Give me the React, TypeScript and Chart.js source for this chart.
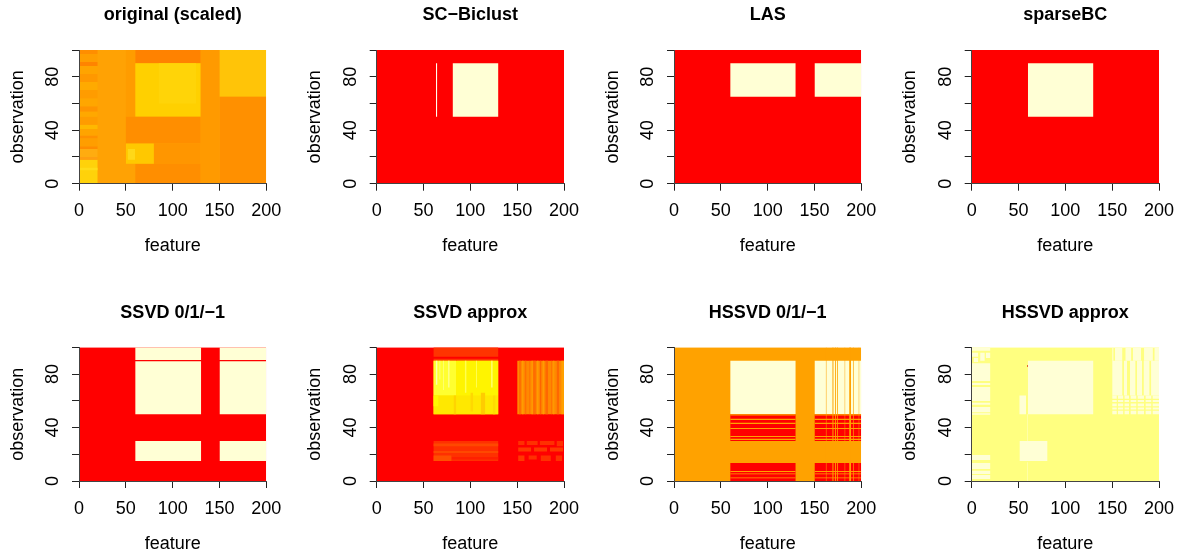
import React, { useEffect, useRef } from "react";
import { Chart, registerables } from "chart.js";

Chart.register(...registerables);

type Rect = [number, number, number, number, string];

const RED = "#FF0000";
const ORANGE = "#FFA200";
const CREAM = "#FFFFD5";
const PALE = "#FFFF80";

const xTicks = [0, 50, 100, 150, 200];
const yLabelled = [0, 40, 80];

const titles = [
  "original (scaled)", "SC\u2212Biclust", "LAS", "sparseBC",
  "SSVD 0/1/\u22121", "SSVD approx", "HSSVD 0/1/\u22121", "HSSVD approx",
];

const cross = (cols: number[][], rows: number[][], color: string): Rect[] =>
  cols.flatMap((c) => rows.map((r) => [c[0], c[1], r[0], r[1], color] as Rect));

// ---- original (scaled)
const originalBlocks: Rect[] = [
  [0, 200, 0, 100, "#FFA204"],
  [50, 60, 30, 100, "#FF9C00"],
  [60, 130, 90, 100, "#FF8200"],
  [60, 130, 50, 90, "#FFD000"],
  [85, 125, 60, 90, "#FFD408"],
  [50, 130, 30, 50, "#FF8E00"],
  [80, 130, 15, 30, "#FF9600"],
  [60, 130, 0, 15, "#FF8E00"],
  [50, 80, 15, 30, "#FFC800"],
  [52, 60, 18, 26, "#FFD818"],
  [130, 150, 0, 100, "#FF9A00"],
  [150, 200, 65, 100, "#FFC408"],
  [150, 200, 0, 65, "#FF9000"],
];
const originalLeftRows: Rect[] = [
  [0, 20, 0, 18, "#FFD20A"], [0, 20, 10, 12, "#FFDC18"], [0, 20, 18, 20, "#FF9E10"],
  [0, 20, 20, 26, "#FFAC10"], [0, 20, 26, 28, "#FF8C00"], [0, 20, 28, 34, "#FF9E00"],
  [0, 20, 34, 36, "#FF9000"], [0, 20, 36, 41, "#FFA400"], [0, 20, 41, 44, "#FFB800"],
  [0, 20, 44, 50, "#FF9C00"], [0, 20, 50, 54, "#FFA800"], [0, 20, 54, 58, "#FF9400"],
  [0, 20, 58, 64, "#FFA600"], [0, 20, 64, 70, "#FF9C00"], [0, 20, 70, 76, "#FFAA00"],
  [0, 20, 76, 82, "#FF9800"], [0, 20, 82, 88, "#FFA400"], [0, 20, 88, 91, "#FF8400"],
  [0, 20, 91, 97, "#FF9E00"], [0, 20, 97, 100, "#FF8E00"],
];

// ---- flat biclusters
const scBiclust: Rect[] = [
  [0, 200, 0, 100, RED], [63.3, 64.7, 50, 90, "#FFFFF0"], [81, 130, 50, 90, CREAM],
];
const las: Rect[] = [
  [0, 200, 0, 100, RED], [60, 130, 65, 90, CREAM], [150, 200, 65, 90, CREAM],
];
const sparseBC: Rect[] = [
  [0, 200, 0, 100, RED], [60, 130, 50, 90, CREAM],
];
const ssvdCols = [[60, 130.5], [150, 200]];
const ssvdRows = [[50, 89.5], [90.5, 100], [15, 30]];
const ssvdBinary: Rect[] = [[0, 200, 0, 100, RED], ...cross(ssvdCols, ssvdRows, CREAM)];

// ---- SSVD approx
const ssvdApprox: Rect[] = [
  [0, 200, 0, 100, RED],
  [60.5, 130, 93, 100, "#FF3400"], [60.5, 130, 90, 91.5, "#FF3400"],
  [60.5, 130, 50, 90, "#FFF000"],
  [60.5, 85, 64, 90, "#FFFF30"], [63, 65, 72, 90, "#FFFFB0"], [67, 68, 76, 90, "#FFFFC0"],
  [71, 72, 68, 90, "#FFFF90"], [76, 78, 70, 90, "#FFFF80"], [85, 130, 64, 90, "#FFF400"],
  [94, 96, 66, 90, "#FFFF50"], [106, 107, 70, 90, "#FFFF60"], [122, 124, 70, 90, "#FFFF60"],
  [60.5, 130, 50, 64, "#FFE800"], [60.5, 66, 56, 64, "#FFF800"], [82, 85, 50, 64, "#FFD400"],
  [100, 103, 52, 66, "#FFD800"], [111, 116, 50, 66, "#FFCC00"], [124, 127, 50, 64, "#FFDC00"],
  [150, 200, 50, 90, "#FF8800"],
  [152, 154, 50, 90, "#FF6C00"], [158, 160, 50, 90, "#FF7000"], [163, 164, 50, 90, "#FF6400"],
  [167, 170, 50, 90, "#FF6C00"], [174, 176, 50, 90, "#FF6400"], [180, 183, 50, 90, "#FF6800"],
  [186, 187, 50, 90, "#FF6C00"], [192, 195, 50, 90, "#FF6800"],
  [155, 157, 50, 90, "#FF9C00"], [165, 167, 50, 90, "#FF9800"], [171, 173, 50, 90, "#FF9C00"],
  [177, 179, 50, 90, "#FF9C00"], [188, 190, 50, 90, "#FF9800"], [197, 200, 50, 90, "#FFA000"],
  [60.5, 130, 15, 30, "#FF3000"],
  [60.5, 130, 26, 28, "#FF4800"], [60.5, 130, 21, 22.5, "#FF4800"], [60.5, 80, 15, 19, "#FF5000"],
  [80, 130, 16, 18, "#FF2000"],
  [151, 158, 27, 30, "#FF3000"], [160, 172, 27, 30, "#FF3000"], [174, 190, 27, 30, "#FF3000"],
  [192, 199, 26, 30, "#FF3000"], [151, 165, 22, 25, "#FF3800"], [168, 182, 22, 25, "#FF3800"],
  [185, 199, 22, 25, "#FF3800"], [151, 158, 15, 19, "#FF3800"], [162, 171, 16, 19, "#FF3000"],
  [175, 186, 15, 19, "#FF3000"], [191, 198, 15, 19, "#FF3000"],
];

// ---- HSSVD 0/1/-1
const hssvdOrangeCols = [[162, 163], [169, 170.5], [172, 173], [174, 175], [182, 183], [187, 189], [191, 192], [197, 198]];
const hssvdOrangeRows = [[49, 50], [45.7, 46.6], [42.7, 43.6], [38.9, 39.6], [32.9, 33.7], [30.7, 31.6], [6.7, 7.5], [5, 5.7], [2, 2.7]];
const hssvdBinary: Rect[] = [
  [0, 200, 0, 100, ORANGE],
  [60, 130, 50, 90, CREAM], [150, 200, 50, 90, CREAM],
  [60, 130, 30, 50, RED], [150, 200, 30, 50, RED],
  [60, 130, 0, 13.5, RED], [150, 200, 0, 13.5, RED],
  [0, 0.8, 50, 90, RED], [0, 0.8, 30, 50, CREAM], [0, 0.8, 0, 13.5, CREAM],
  ...cross(hssvdOrangeCols, [[0, 100]], ORANGE),
  ...cross([[60, 130], [150, 200], [0, 0.8]], hssvdOrangeRows, ORANGE),
];

// ---- HSSVD approx
const approxLeftRows = [[97.5, 100], [85.3, 88], [74.8, 85.3], [71.8, 73.3], [59.8, 70.3], [57, 58.5], [51.4, 55.3], [49.6, 50.6], [15.7, 19.4], [9, 13.5], [5.2, 7.7], [1.5, 4.5]];
const approxTopCols = [[150, 151.5], [153, 161], [164, 170.5], [172, 181], [184, 193.5], [195, 200]];
const approxMidCols = [[150, 161], [162.5, 166], [169, 175], [176.5, 182], [183.5, 190], [191.5, 200]];
const approxLowCols = [[150, 155], [156, 162], [163, 168], [169.5, 176], [177, 184], [185.5, 192], [193, 200]];
const approxLowRows = [[50, 52.5], [53.5, 55], [56, 58], [59, 60.5], [61.5, 64]];
const hssvdApprox: Rect[] = [
  [0, 200, 0, 100, PALE],
  ...cross([[0, 20]], approxLeftRows, CREAM),
  [0, 7, 93, 96, CREAM], [9, 14, 90, 96, CREAM], [15, 20, 92, 96, CREAM], [2, 7, 89, 92, CREAM],
  [60, 130, 50, 90, CREAM], [50.8, 58, 50, 64, CREAM], [51, 81, 15, 30, CREAM],
  [59, 60, 30, 50, "#FFFFB0"], [59, 60, 0, 14, "#FFFFB0"], [59, 60, 85.5, 86.5, "#D00000"],
  ...cross(approxTopCols, [[90, 100]], CREAM),
  ...cross(approxMidCols, [[64, 90]], CREAM),
  ...cross(approxLowCols, approxLowRows, CREAM),
];

const panelRects: Rect[][] = [
  [...originalBlocks, ...originalLeftRows], scBiclust, las, sparseBC,
  ssvdBinary, ssvdApprox, hssvdBinary, hssvdApprox,
];

const FONT = "'Liberation Sans', Arial, Helvetica, sans-serif";
const CANVAS_W = 340;
const CANVAS_H = 258;
const canvasLefts = [3, 300, 598, 895];
const canvasTops = [0, 298];
const plotLefts = [79, 376.7, 674, 971.7];
const plotTops = [50, 49.3];
const PLOT_W = 187.3;
const PLOT_H = 133.7;
const Y_BOX = 72;
const X_BOX = 73.5;
const TITLE_TOP = 4.5;
const TITLE_H = 21.6;

function Panel({ index }: { index: number }) {
  const ref = useRef<HTMLCanvasElement>(null);
  const col = index % 4;
  const row = Math.floor(index / 4);
  useEffect(() => {
    const rects = panelRects[index];
    const plotX = plotLefts[col] - canvasLefts[col];
    const padLeft = plotX - Y_BOX;
    const padRight = CANVAS_W - plotX - PLOT_W - Y_BOX;
    const padBottom = CANVAS_H - plotTops[row] - PLOT_H - X_BOX;
    const chart = new Chart(ref.current!, {
      type: "line",
      data: {
        datasets: rects.map((r, i) => ({
          data: [{ x: r[0], y: r[3] }, { x: r[1], y: r[3] }],
          fill: { value: r[2] },
          backgroundColor: r[4],
          borderWidth: 0,
          pointRadius: 0,
          yAxisID: "y",
          order: rects.length - i,
        })),
      },
      options: {
        animation: false,
        responsive: false,
        layout: { padding: { left: padLeft, right: padRight, top: 0, bottom: padBottom } },
        plugins: {
          legend: { display: false },
          tooltip: { enabled: false },
          title: {
            display: true,
            text: titles[index],
            color: "#000",
            font: { family: FONT, size: 18, weight: "bold", lineHeight: 1.2 },
            padding: { top: TITLE_TOP, bottom: plotTops[row] - TITLE_TOP - TITLE_H },
          },
        },
        scales: {
          x: {
            type: "linear",
            min: 0,
            max: 200,
            afterBuildTicks: (s: any) => { s.ticks = xTicks.map((value) => ({ value })); },
            afterFit: (s: any) => { s.height = X_BOX; },
            grid: { drawOnChartArea: false, color: "#222", tickLength: 7, tickWidth: 1 },
            border: { display: true, color: "#444", z: 1 },
            ticks: { color: "#000", font: { family: FONT, size: 18 }, padding: 10, maxRotation: 0, autoSkip: false },
            title: { display: true, text: "feature", color: "#000", font: { family: FONT, size: 18, lineHeight: 1.2 }, padding: 0 },
          },
          y: {
            type: "linear",
            position: "left",
            min: 0,
            max: 100,
            ticks: {
              stepSize: 20,
              color: "#000",
              font: { family: FONT, size: 18 },
              padding: 9,
              crossAlign: "center",
              minRotation: 90,
              maxRotation: 90,
              autoSkip: false,
              callback: (v: any) => (yLabelled.includes(v) ? String(v) : ""),
            },
            afterFit: (s: any) => { s.width = Y_BOX; },
            grid: { drawOnChartArea: false, color: "#222", tickLength: 7, tickWidth: 1 },
            border: { display: true, color: "#444", z: 1 },
            title: { display: true, text: "observation", color: "#000", font: { family: FONT, size: 18, lineHeight: 1.2 }, padding: 0 },
          },
          balance: {
            type: "linear",
            position: "right",
            min: 0,
            max: 100,
            afterFit: (s: any) => { s.width = Y_BOX; },
            grid: { display: false },
            border: { display: false },
            ticks: { display: false },
          },
        },
      } as any,
    });
    return () => chart.destroy();
  }, [index, col, row]);
  return (
    <canvas
      ref={ref}
      width={CANVAS_W}
      height={CANVAS_H}
      style={{ position: "absolute", left: canvasLefts[col], top: canvasTops[row], width: CANVAS_W, height: CANVAS_H }}
    />
  );
}

export default function App() {
  return (
    <div style={{ position: "fixed", left: 0, top: 0, width: 1181, height: 556, overflow: "hidden", background: "#fff" }}>
      {titles.map((_, i) => <Panel key={i} index={i} />)}
    </div>
  );
}
